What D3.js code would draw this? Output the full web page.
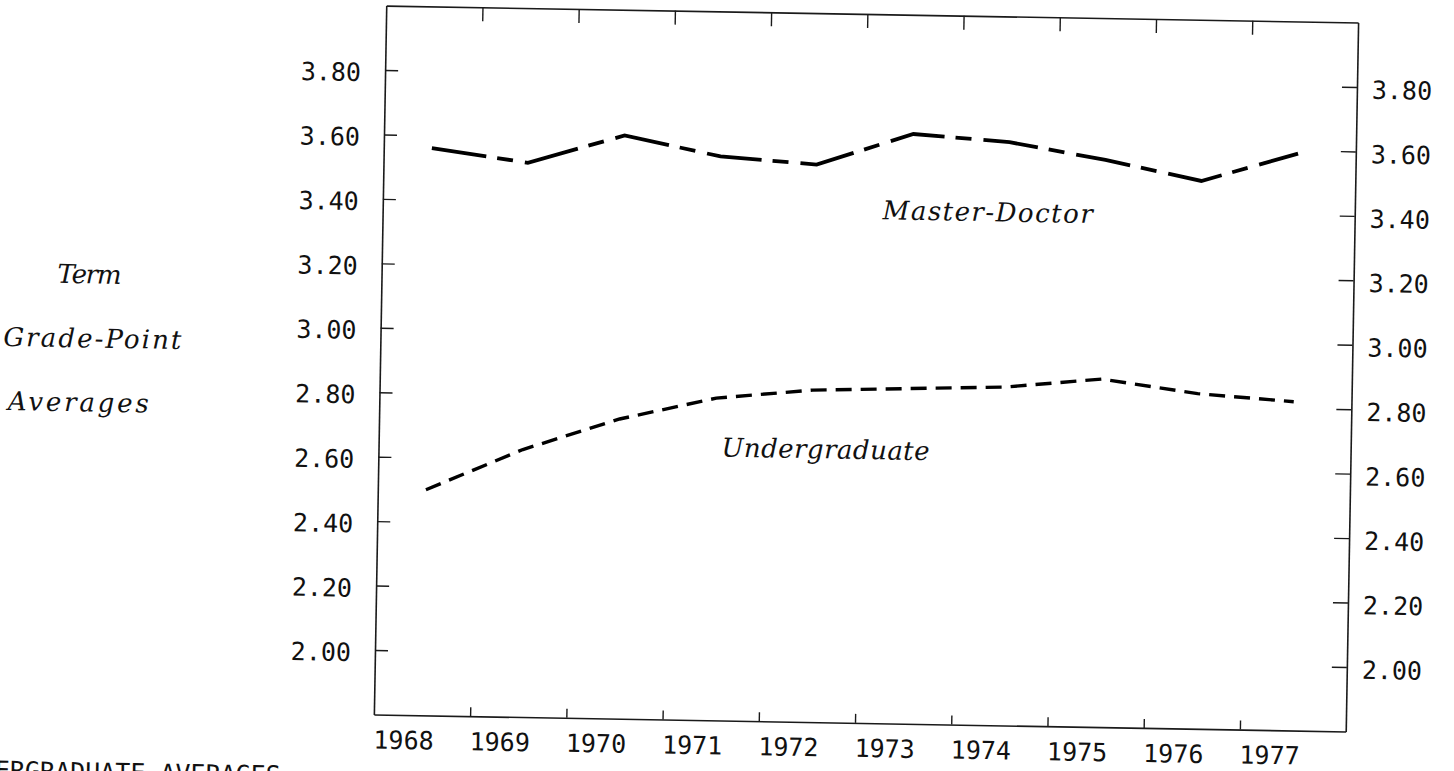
<!DOCTYPE html>
<html>
<head>
<meta charset="utf-8">
<script src="https://cdn.jsdelivr.net/npm/d3@7"></script>
<style>
  html, body { margin: 0; padding: 0; background: #fff; }
  svg { display: block; }
  .num { font-family: "DejaVu Sans Mono", monospace; font-size: 25px; fill: #111; }
  .ital { font-family: "DejaVu Serif", "Liberation Serif", serif; font-style: italic; font-size: 26px; fill: #111; }
</style>
</head>
<body>
<svg id="chart" width="1454" height="771"></svg>
<script>
// ---- data ----
const years = [1968, 1969, 1970, 1971, 1972, 1973, 1974, 1975, 1976, 1977];
const masterDoctor = [3.56, 3.52, 3.61, 3.55, 3.53, 3.63, 3.61, 3.56, 3.50, 3.59];
const undergraduate = [2.50, 2.63, 2.73, 2.80, 2.83, 2.84, 2.85, 2.88, 2.84, 2.82];
const yTickValues = [2.00, 2.20, 2.40, 2.60, 2.80, 3.00, 3.20, 3.40, 3.60, 3.80];
const xTickValues = [1968.5, 1969.5, 1970.5, 1971.5, 1972.5, 1973.5, 1974.5, 1975.5, 1976.5];
const yAxisTitle = ["Term", "Grade-Point", "Averages"];
const seriesLabels = ["Master-Doctor", "Undergraduate"];
const footerText = "ERGRADUATE AVERAGES";

// ---- layout ----
const svg = d3.select("#chart");
const root = svg.append("g").attr("transform", "rotate(1, 866, 368)");

const x = d3.scaleLinear().domain([1967.5, 1977.6]).range([380, 1352]);
const y = d3.scaleLinear().domain([1.8, 4.0]).range([723, 14]);

const fmt = d3.format(".2f");

function styleAxis(g) {
  g.select(".domain").attr("stroke", "#1a1a1a").attr("stroke-width", 1.6);
  g.selectAll(".tick line").attr("stroke", "#1a1a1a").attr("stroke-width", 1.4);
  g.selectAll("text").attr("class", "num").attr("font-size", null).attr("font-family", null).attr("fill", null);
}

// left axis
root.append("g")
  .attr("transform", `translate(${x(1967.5)},0)`)
  .call(d3.axisLeft(y).tickValues(yTickValues).tickFormat(fmt)
        .tickSizeInner(-13).tickSizeOuter(0).tickPadding(24))
  .call(styleAxis)
  .call(g => g.selectAll("text").attr("dy", "0.44em"));

// right axis
root.append("g")
  .attr("transform", `translate(${x(1977.6)},0)`)
  .call(d3.axisRight(y).tickValues(yTickValues).tickFormat(fmt)
        .tickSizeInner(-15).tickSizeOuter(0).tickPadding(15))
  .call(styleAxis)
  .call(g => g.selectAll("text").attr("dy", "0.44em"));

// top axis
root.append("g")
  .attr("transform", `translate(0,${y(4.0)})`)
  .call(d3.axisTop(x).tickValues(xTickValues).tickFormat("")
        .tickSizeInner(-14).tickSizeOuter(0))
  .call(styleAxis);

// bottom axis
root.append("g")
  .attr("transform", `translate(0,${y(1.8)})`)
  .call(d3.axisBottom(x).tickValues(xTickValues).tickFormat("")
        .tickSizeInner(-9).tickSizeOuter(0))
  .call(styleAxis);

// year labels (typed slightly left of the data position)
root.append("g").selectAll("text")
  .data(years)
  .join("text")
  .attr("class", "num")
  .attr("x", d => x(d) - 18)
  .attr("y", 757)
  .attr("text-anchor", "middle")
  .attr("font-size", 26)
  .text(d => d);

// lines
const line = d3.line().x((d, i) => x(years[i])).y(d => y(d));

root.append("path")
  .datum(masterDoctor)
  .attr("d", line)
  .attr("fill", "none")
  .attr("stroke", "#000")
  .attr("stroke-width", 3.8)
  .attr("stroke-dasharray", "55,11,16,12");

root.append("path")
  .datum(undergraduate)
  .attr("d", line)
  .attr("fill", "none")
  .attr("stroke", "#000")
  .attr("stroke-width", 3.4)
  .attr("stroke-dasharray", "16,9");

// series labels
function italLabel(txt, cx, by, w) {
  root.append("text").attr("class", "ital")
    .attr("x", cx - w / 2).attr("y", by)
    .attr("textLength", w).attr("lengthAdjust", "spacing")
    .text(txt);
}
italLabel(seriesLabels[0], 985, 219, 210);
italLabel(seriesLabels[1], 827, 459, 208);

// y axis title (three lines)
const titlePos = [[88, 297, 64], [92, 361, 178], [79, 425, 141]];
yAxisTitle.forEach((t, i) => italLabel(t, titlePos[i][0], titlePos[i][1], titlePos[i][2]));

// clipped footer text
root.append("text")
  .attr("class", "num")
  .attr("x", 2).attr("y", 794)
  .attr("font-size", 26)
  .text(footerText);
</script>
</body>
</html>
